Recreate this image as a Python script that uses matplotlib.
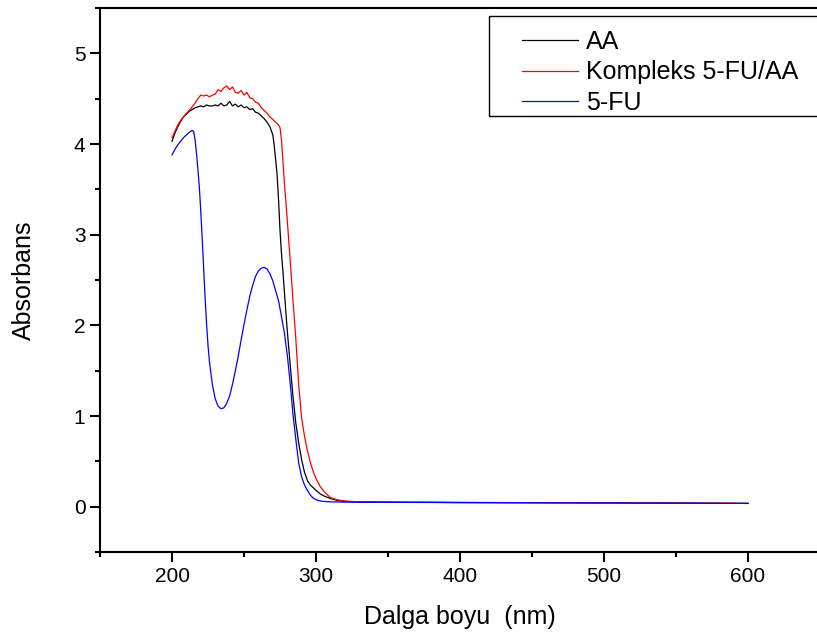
import matplotlib
matplotlib.use("Agg")
import matplotlib.pyplot as plt
from matplotlib.patches import Rectangle

plt.rcParams['font.family'] = ['Liberation Sans', 'DejaVu Sans']

# AA spectrum
wl_aa = [200, 202, 204, 206, 208, 210, 212, 214, 216, 218, 220, 222, 224, 226, 228, 230,
         232, 234, 236, 238, 240, 242, 244, 246, 248, 250, 252, 254, 256, 258, 260, 262,
         264, 266, 268, 270, 271, 272, 273, 274, 275, 276, 277, 278, 280, 282, 284, 286,
         288, 290, 292, 294, 296, 298, 300, 303, 306, 310, 315, 320, 330, 350, 400, 450,
         500, 550, 600]
abs_aa = [4.03, 4.12, 4.19, 4.25, 4.30, 4.33, 4.36, 4.38, 4.40, 4.41, 4.42, 4.41, 4.43, 4.42,
          4.42, 4.43, 4.42, 4.45, 4.42, 4.43, 4.47, 4.42, 4.44, 4.41, 4.43, 4.40, 4.41, 4.38,
          4.39, 4.35, 4.34, 4.31, 4.28, 4.24, 4.19, 4.10, 3.98, 3.82, 3.66, 3.38, 3.05, 2.80,
          2.60, 2.38, 1.95, 1.58, 1.22, 0.92, 0.70, 0.52, 0.38, 0.29, 0.24, 0.21, 0.18, 0.14,
          0.115, 0.09, 0.068, 0.058, 0.052, 0.050, 0.046, 0.044, 0.042, 0.040, 0.036]

# complex spectrum
wl_kx = [200, 202, 204, 206, 208, 210, 212, 214, 216, 218, 220, 222, 224, 226, 228, 230,
         232, 234, 236, 238, 240, 242, 244, 246, 248, 250, 252, 254, 256, 258, 260, 262,
         264, 266, 268, 270, 272, 274, 275, 276, 277, 278, 279, 280, 281, 282, 284, 286,
         288, 290, 292, 294, 296, 298, 300, 303, 306, 310, 315, 320, 330, 350, 400, 450,
         500, 550, 600]
abs_kx = [4.07, 4.14, 4.21, 4.26, 4.30, 4.34, 4.37, 4.41, 4.45, 4.50, 4.54, 4.53, 4.54, 4.52,
          4.54, 4.55, 4.60, 4.58, 4.62, 4.64, 4.60, 4.63, 4.57, 4.56, 4.59, 4.54, 4.57, 4.51,
          4.50, 4.46, 4.45, 4.40, 4.37, 4.34, 4.30, 4.27, 4.24, 4.21, 4.18, 4.05, 3.82, 3.58,
          3.38, 3.17, 2.95, 2.74, 2.28, 1.85, 1.34, 0.98, 0.78, 0.62, 0.49, 0.39, 0.31, 0.22,
          0.16, 0.10, 0.075, 0.062, 0.053, 0.050, 0.046, 0.044, 0.042, 0.040, 0.036]

# 5-FU spectrum
wl_fu = [200, 202, 204, 206, 208, 210, 212, 214, 215, 216, 217, 218, 219, 220, 221, 222,
         223, 224, 225, 226, 228, 230, 232, 234, 236, 238, 240, 242, 244, 246, 248, 250,
         252, 254, 256, 258, 260, 262, 264, 266, 268, 270, 272, 274, 276, 278, 280, 282,
         284, 286, 288, 290, 292, 294, 296, 298, 300, 302, 305, 310, 320, 350, 400, 450,
         500, 550, 600]
abs_fu = [3.88, 3.94, 3.99, 4.03, 4.07, 4.10, 4.13, 4.15, 4.14, 4.05, 3.90, 3.72, 3.52, 3.25,
          2.95, 2.62, 2.30, 2.02, 1.78, 1.60, 1.35, 1.19, 1.11, 1.08, 1.09, 1.14, 1.22, 1.35,
          1.50, 1.66, 1.84, 2.01, 2.17, 2.32, 2.44, 2.54, 2.60, 2.63, 2.64, 2.62, 2.57, 2.49,
          2.38, 2.27, 2.10, 1.92, 1.68, 1.38, 1.02, 0.74, 0.48, 0.33, 0.24, 0.18, 0.13, 0.095,
          0.078, 0.066, 0.058, 0.053, 0.050, 0.048, 0.045, 0.043, 0.041, 0.039, 0.036]

labels = ["AA", "Kompleks 5-FU/AA", "5-FU"]

fig = plt.figure(figsize=(8.17, 6.37), dpi=100)
W, H = 817, 637
ax = fig.add_axes([100 / W, 1 - 552 / H, 720 / W, 544 / H])

ax.plot(wl_aa, abs_aa, color='black', lw=0.9, label=labels[0])
ax.plot(wl_kx, abs_kx, color='#ff0000', lw=0.9, label=labels[1])
ax.plot(wl_fu, abs_fu, color='#0000ff', lw=0.9, label=labels[2])

ax.set_xlim(150, 650)
ax.set_ylim(-0.5, 5.5)
ax.set_xticks([200, 300, 400, 500, 600])
ax.set_xticks([150, 250, 350, 450, 550, 650], minor=True)
ax.set_yticks([0, 1, 2, 3, 4, 5])
ax.set_yticks([-0.5, 0.5, 1.5, 2.5, 3.5, 4.5, 5.5], minor=True)
ax.spines['right'].set_visible(False)
for s in ['left', 'bottom', 'top']:
    ax.spines[s].set_linewidth(1.5)
ax.tick_params(which='major', direction='out', length=7, width=1.5, labelsize=15)
ax.tick_params(which='minor', direction='out', length=3.6, width=1.5)

ax.set_xlabel("Dalga boyu  (nm)", fontsize=18, labelpad=14)
ax.set_ylabel("Absorbans", fontsize=18, labelpad=27)

fig.patches.append(Rectangle((489 / W, 1 - 116 / H), 340 / W, 100 / H,
                             transform=fig.transFigure, fill=False,
                             edgecolor='black', lw=1.0))
leg = ax.legend(loc='upper left', bbox_to_anchor=(502 / W, 1 - 10 / H),
                bbox_transform=fig.transFigure, frameon=False, fontsize=18,
                handlelength=2.25, handletextpad=0.32, labelspacing=0.25,
                borderpad=0.3)

fig.savefig("out.png", dpi=100)
